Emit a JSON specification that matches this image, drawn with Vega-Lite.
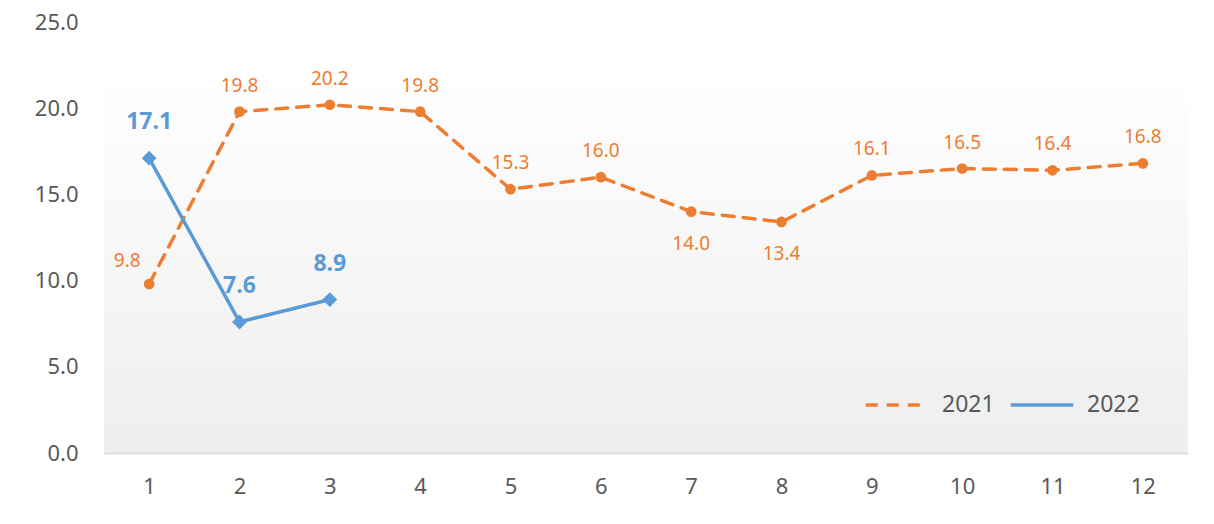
{
  "$schema": "https://vega.github.io/schema/vega-lite/v6.json",
  "autosize": "none",
  "width": 1084,
  "height": 431,
  "padding": {"left": 104, "top": 22, "right": 26, "bottom": 71},
  "background": "#ffffff",
  "config": {
    "font": "Noto Sans",
    "view": {
      "stroke": null,
      "fill": {"gradient": "linear", "x1": 0, "y1": 0, "x2": 0, "y2": 1,
        "stops": [{"offset": 0, "color": "#ffffff"}, {"offset": 0.1, "color": "#ffffff"}, {"offset": 1, "color": "#eeeeee"}]}
    }
  },
  "data": {
    "values": [
      {"month": 1, "year": "2021", "value": 9.8},
      {"month": 2, "year": "2021", "value": 19.8},
      {"month": 3, "year": "2021", "value": 20.2},
      {"month": 4, "year": "2021", "value": 19.8},
      {"month": 5, "year": "2021", "value": 15.3},
      {"month": 6, "year": "2021", "value": 16.0},
      {"month": 7, "year": "2021", "value": 14.0},
      {"month": 8, "year": "2021", "value": 13.4},
      {"month": 9, "year": "2021", "value": 16.1},
      {"month": 10, "year": "2021", "value": 16.5},
      {"month": 11, "year": "2021", "value": 16.4},
      {"month": 12, "year": "2021", "value": 16.8},
      {"month": 1, "year": "2022", "value": 17.1},
      {"month": 2, "year": "2022", "value": 7.6},
      {"month": 3, "year": "2022", "value": 8.9}
    ]
  },
  "encoding": {
    "x": {
      "field": "month", "type": "ordinal",
      "scale": {"domain": [1,2,3,4,5,6,7,8,9,10,11,12], "paddingOuter": 0.5},
      "axis": {
        "title": null, "labelAngle": 0, "ticks": false,
        "domainColor": "#d9d9d9", "domainWidth": 1.5,
        "labelFontSize": 22, "labelColor": "#595959", "labelPadding": 23, "grid": false
      }
    },
    "y": {
      "field": "value", "type": "quantitative",
      "scale": {"domain": [0, 25], "nice": false},
      "axis": {
        "title": null, "values": [0, 5, 10, 15, 20, 25], "format": ".1f",
        "ticks": false, "domain": false, "grid": false,
        "labelFontSize": 22, "labelColor": "#595959", "labelPadding": 26
      }
    }
  },
  "layer": [
    {
      "mark": {"type": "line", "strokeWidth": 3.5, "strokeCap": "round"},
      "encoding": {
        "color": {
          "field": "year", "type": "nominal",
          "scale": {"domain": ["2021", "2022"], "range": ["#ED7D31", "#5B9BD5"]},
          "legend": {
            "title": null, "orient": "none", "direction": "horizontal",
            "legendX": 760, "legendY": 350,
            "symbolType": "stroke", "symbolSize": 3900, "symbolStrokeWidth": 3.5,
            "labelFontSize": 23, "labelColor": "#595959", "columnPadding": 8, "labelOffset": 12
          }
        },
        "strokeDash": {
          "field": "year", "type": "nominal",
          "scale": {"domain": ["2021", "2022"], "range": [[12, 9], [1, 0]]},
          "legend": {
            "title": null, "orient": "none", "direction": "horizontal",
            "legendX": 760, "legendY": 350,
            "symbolType": "stroke", "symbolSize": 3900, "symbolStrokeWidth": 3.5,
            "labelFontSize": 23, "labelColor": "#595959", "columnPadding": 8, "labelOffset": 12
          }
        }
      }
    },
    {
      "transform": [{"filter": "datum.year == '2021'"}],
      "mark": {"type": "point", "filled": true, "opacity": 1, "shape": "circle", "size": 115, "color": "#ED7D31"}
    },
    {
      "transform": [{"filter": "datum.year == '2022'"}],
      "mark": {"type": "point", "filled": true, "opacity": 1, "shape": "diamond", "size": 220, "color": "#5B9BD5"}
    },
    {
      "transform": [{"filter": "datum.year == '2021' && datum.month != 1 && datum.month != 7 && datum.month != 8"}],
      "mark": {"type": "text", "dy": -26, "fontSize": 19, "color": "#ED7D31"},
      "encoding": {"text": {"field": "value", "type": "quantitative", "format": ".1f"}}
    },
    {
      "transform": [{"filter": "datum.year == '2021' && (datum.month == 7 || datum.month == 8)"}],
      "mark": {"type": "text", "dy": 32, "fontSize": 19, "color": "#ED7D31"},
      "encoding": {"text": {"field": "value", "type": "quantitative", "format": ".1f"}}
    },
    {
      "transform": [{"filter": "datum.year == '2021' && datum.month == 1"}],
      "mark": {"type": "text", "dx": -22, "dy": -23, "fontSize": 19, "color": "#ED7D31"},
      "encoding": {"text": {"field": "value", "type": "quantitative", "format": ".1f"}}
    },
    {
      "transform": [{"filter": "datum.year == '2022'"}],
      "mark": {"type": "text", "dy": -36, "fontSize": 23, "fontWeight": "bold", "color": "#5B9BD5"},
      "encoding": {"text": {"field": "value", "type": "quantitative", "format": ".1f"}}
    }
  ]
}
